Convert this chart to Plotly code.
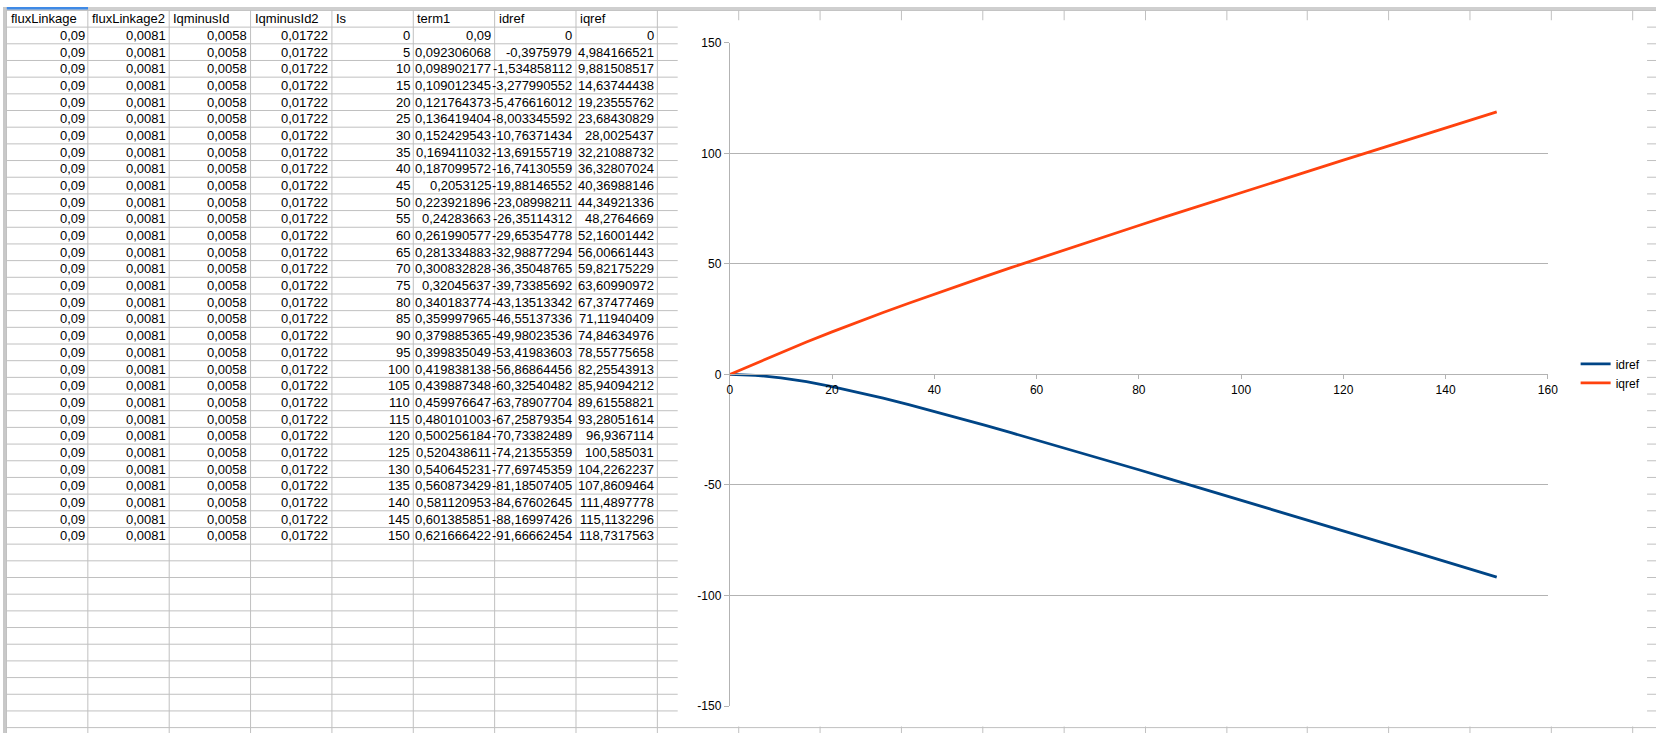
import plotly.graph_objects as go

# ---------------- data (as shown in the sheet) ----------------
headers = ["fluxLinkage", "fluxLinkage2", "IqminusId", "IqminusId2", "Is", "term1", "idref", "iqref"]

fluxLinkage = ["0,09", "0,09", "0,09", "0,09", "0,09", "0,09", "0,09", "0,09", "0,09", "0,09", "0,09",
               "0,09", "0,09", "0,09", "0,09", "0,09", "0,09", "0,09", "0,09", "0,09", "0,09", "0,09",
               "0,09", "0,09", "0,09", "0,09", "0,09", "0,09", "0,09", "0,09", "0,09"]
fluxLinkage2 = ["0,0081", "0,0081", "0,0081", "0,0081", "0,0081", "0,0081", "0,0081", "0,0081",
                "0,0081", "0,0081", "0,0081", "0,0081", "0,0081", "0,0081", "0,0081", "0,0081",
                "0,0081", "0,0081", "0,0081", "0,0081", "0,0081", "0,0081", "0,0081", "0,0081",
                "0,0081", "0,0081", "0,0081", "0,0081", "0,0081", "0,0081", "0,0081"]
IqminusId = ["0,0058", "0,0058", "0,0058", "0,0058", "0,0058", "0,0058", "0,0058", "0,0058",
             "0,0058", "0,0058", "0,0058", "0,0058", "0,0058", "0,0058", "0,0058", "0,0058",
             "0,0058", "0,0058", "0,0058", "0,0058", "0,0058", "0,0058", "0,0058", "0,0058",
             "0,0058", "0,0058", "0,0058", "0,0058", "0,0058", "0,0058", "0,0058"]
IqminusId2 = ["0,01722", "0,01722", "0,01722", "0,01722", "0,01722", "0,01722", "0,01722", "0,01722",
              "0,01722", "0,01722", "0,01722", "0,01722", "0,01722", "0,01722", "0,01722", "0,01722",
              "0,01722", "0,01722", "0,01722", "0,01722", "0,01722", "0,01722", "0,01722", "0,01722",
              "0,01722", "0,01722", "0,01722", "0,01722", "0,01722", "0,01722", "0,01722"]
Is = ["0", "5", "10", "15", "20", "25", "30", "35", "40", "45", "50", "55", "60", "65", "70", "75",
      "80", "85", "90", "95", "100", "105", "110", "115", "120", "125", "130", "135", "140", "145", "150"]
term1 = ["0,09", "0,092306068", "0,098902177", "0,109012345", "0,121764373", "0,136419404",
         "0,152429543", "0,169411032", "0,187099572", "0,2053125", "0,223921896", "0,24283663",
         "0,261990577", "0,281334883", "0,300832828", "0,32045637", "0,340183774", "0,359997965",
         "0,379885365", "0,399835049", "0,419838138", "0,439887348", "0,459976647", "0,480101003",
         "0,500256184", "0,520438611", "0,540645231", "0,560873429", "0,581120953", "0,601385851",
         "0,621666422"]
idref = ["0", "-0,3975979", "-1,534858112", "-3,277990552", "-5,476616012", "-8,003345592",
         "-10,76371434", "-13,69155719", "-16,74130559", "-19,88146552", "-23,08998211",
         "-26,35114312", "-29,65354778", "-32,98877294", "-36,35048765", "-39,73385692",
         "-43,13513342", "-46,55137336", "-49,98023536", "-53,41983603", "-56,86864456",
         "-60,32540482", "-63,78907704", "-67,25879354", "-70,73382489", "-74,21355359",
         "-77,69745359", "-81,18507405", "-84,67602645", "-88,16997426", "-91,66662454"]
iqref = ["0", "4,984166521", "9,881508517", "14,63744438", "19,23555762", "23,68430829",
         "28,0025437", "32,21088732", "36,32807024", "40,36988146", "44,34921336", "48,2764669",
         "52,16001442", "56,00661443", "59,82175229", "63,60990972", "67,37477469", "71,11940409",
         "74,84634976", "78,55775658", "82,25543913", "85,94094212", "89,61558821", "93,28051614",
         "96,9367114", "100,585031", "104,2262237", "107,8609464", "111,4897778", "115,1132296",
         "118,7317563"]

# chart axis tick labels
x_tickvals = [0, 20, 40, 60, 80, 100, 120, 140, 160]
x_ticktext = ["0", "20", "40", "60", "80", "100", "120", "140", "160"]
y_tickvals = [-150, -100, -50, 0, 50, 100, 150]
y_ticktext = ["-150", "-100", "-50", "0", "50", "100", "150"]

columns = [fluxLinkage, fluxLinkage2, IqminusId, IqminusId2, Is, term1, idref, iqref]


def num(s):
    return float(s.replace(",", "."))


x_is = [num(v) for v in Is]
y_id = [num(v) for v in idref]
y_iq = [num(v) for v in iqref]

# ---------------- layout geometry (pixels) ----------------
W, H = 1666, 740
COL0, COLW = 3.75, 81.95
ROW0, ROWH = 3.0, 17
GRID = "#c0c0c0"
FONT = "Liberation Sans, Arial, sans-serif"


def px(v):
    return int(v) + 0.5


shapes = []
# sheet grid lines (drawn on the invisible pixel axes x/y)
k = 0
while COL0 + COLW * k < W:
    xv = px(COL0 + COLW * k)
    shapes.append(dict(type="line", xref="x", yref="y", x0=xv, x1=xv, y0=0, y1=H,
                       line=dict(color=GRID, width=1), layer="below"))
    k += 1
j = 0
while ROW0 + ROWH * j < H:
    yv = ROW0 + ROWH * j + 0.5
    shapes.append(dict(type="line", xref="x", yref="y", x0=0, x1=W, y0=yv, y1=yv,
                       line=dict(color=GRID, width=1), layer="below"))
    j += 1
# header strip and row-header strip
shapes.append(dict(type="rect", xref="x", yref="y", x0=0, x1=W, y0=0, y1=3,
                   fillcolor="#cfcfcf", line=dict(width=0), layer="below"))
shapes.append(dict(type="rect", xref="x", yref="y", x0=COL0, x1=COL0 + COLW, y0=0, y1=2.6,
                   fillcolor="#3f8ae6", line=dict(width=0), layer="below"))
shapes.append(dict(type="rect", xref="x", yref="y", x0=0, x1=3, y0=0, y1=H,
                   fillcolor="#c8c8c8", line=dict(width=0), layer="below"))
# chart object (white background covering the cells)
shapes.append(dict(type="rect", xref="x", yref="y", x0=680, x1=1657, y0=13.5, y1=733.5,
                   fillcolor="white", line=dict(width=0), layer="below"))
# plot-area border
shapes.append(dict(type="rect", xref="x2 domain", yref="y2 domain", x0=0, x1=1, y0=0, y1=1,
                   line=dict(color="#b3b3b3", width=1), layer="below"))

annotations = []
for c, name in enumerate(headers):
    left = COL0 + COLW * c
    annotations.append(dict(xref="x", yref="y", x=left + 2, y=ROW0 + ROWH * 0.5 + 0.5,
                            text=name, showarrow=False, xanchor="left", yanchor="middle",
                            font=dict(family=FONT, size=13, color="black")))
    for r, val in enumerate(columns[c]):
        annotations.append(dict(xref="x", yref="y", x=left + COLW - 1.5,
                                y=ROW0 + ROWH * (r + 1.5) + 0.5,
                                text=val, showarrow=False, xanchor="right", yanchor="middle",
                                font=dict(family=FONT, size=13, color="black")))

fig = go.Figure()
# invisible trace to hold the pixel axes
fig.add_trace(go.Scatter(x=[0], y=[0], xaxis="x", yaxis="y", mode="markers",
                         marker=dict(opacity=0), showlegend=False, hoverinfo="skip"))
fig.add_trace(go.Scatter(x=x_is, y=y_id, name="idref", mode="lines", xaxis="x2", yaxis="y2",
                         line=dict(color="#004586", width=2.8)))
fig.add_trace(go.Scatter(x=x_is, y=y_iq, name="iqref", mode="lines", xaxis="x2", yaxis="y2",
                         line=dict(color="#ff420e", width=2.8)))

xd0, xd1 = 732.5 / W, 1557 / W
yd0, yd1 = 1 - 712.5 / H, 1 - 36.5 / H
tickfont = dict(family=FONT, size=12, color="black")

fig.update_layout(
    width=W, height=H, autosize=False, margin=dict(l=0, r=0, t=0, b=0),
    paper_bgcolor="white", plot_bgcolor="rgba(0,0,0,0)",
    xaxis=dict(domain=[0, 1], range=[0, W], visible=False, fixedrange=True),
    yaxis=dict(domain=[0, 1], range=[H, 0], visible=False, fixedrange=True),
    xaxis2=dict(domain=[xd0, xd1], range=[0, 160], tickmode="array", tickvals=x_tickvals,
                ticktext=x_ticktext, anchor="free",
                position=(yd0 + yd1) / 2, showgrid=False, zeroline=False, showline=True,
                linecolor="#b3b3b3", linewidth=1, ticks="outside", ticklen=4,
                tickcolor="#b3b3b3", tickfont=tickfont),
    yaxis2=dict(domain=[yd0, yd1], range=[-150, 150], tickmode="array", tickvals=y_tickvals,
                ticktext=y_ticktext, anchor="x2",
                showgrid=True, gridcolor="#b3b3b3", gridwidth=1, zeroline=False,
                showline=True, linecolor="#b3b3b3", ticks="outside", ticklen=5,
                tickcolor="#b3b3b3", tickfont=tickfont),
    shapes=shapes,
    annotations=annotations,
    showlegend=True,
    legend=dict(x=1585 / W, xanchor="left", y=1 - 373.5 / H, yanchor="middle",
                font=dict(family=FONT, size=12, color="black"), bgcolor="rgba(0,0,0,0)",
                itemwidth=30, tracegroupgap=0),
)

post = (
    "document.documentElement.style.margin='0';"
    "document.body.style.margin='0';document.body.style.padding='0';"
    "document.body.style.overflow='hidden';"
)

fig.write_html("out.html", config={"displayModeBar": False},
               post_script=post)
